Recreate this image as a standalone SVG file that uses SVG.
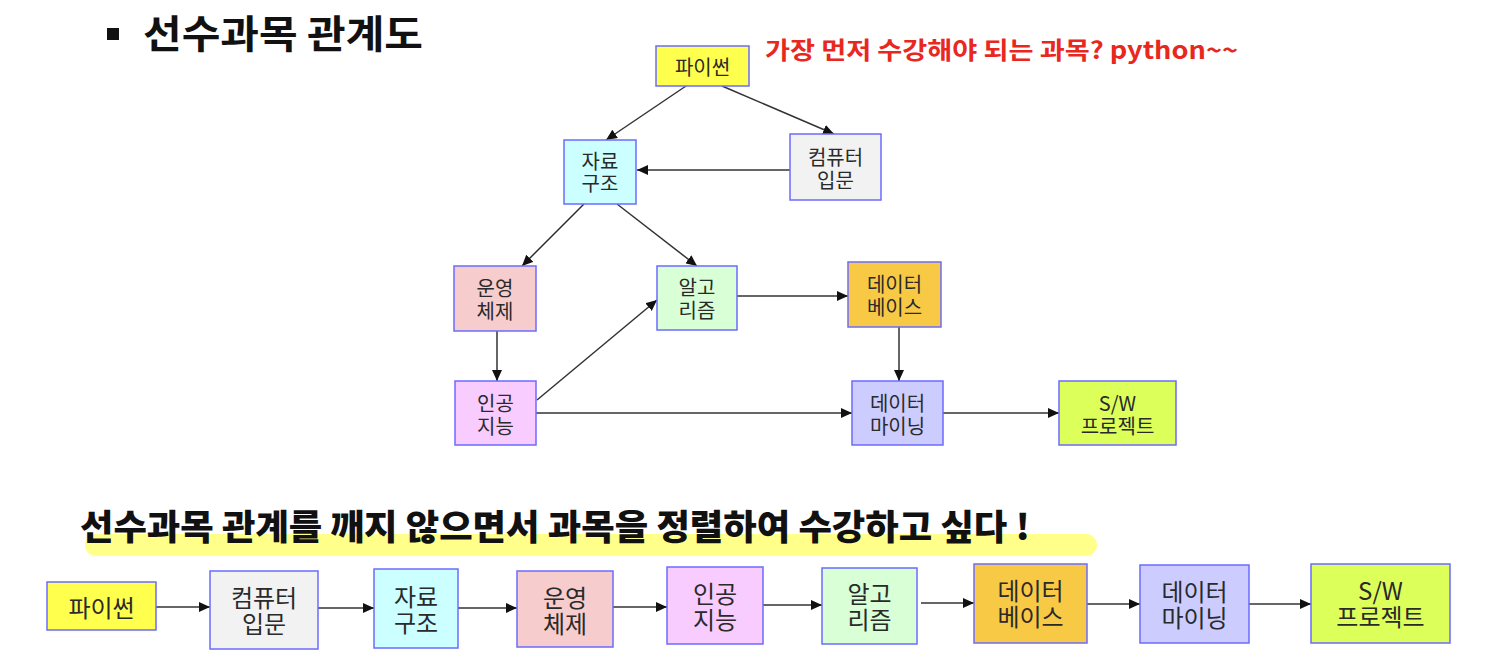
<svg xmlns="http://www.w3.org/2000/svg" width="1500" height="666" viewBox="0 0 1500 666">
<style>
.box{stroke:#6B6BFF;stroke-width:1.5}
.t{font-family:"Noto Sans CJK KR","Noto Sans",sans-serif;font-size:20px;fill:#2a2a2a;text-anchor:middle;dominant-baseline:central}
.tb{font-family:"Noto Sans CJK KR","Noto Sans",sans-serif;font-size:24px;fill:#2a2a2a;text-anchor:middle;dominant-baseline:central}
.c{stroke:#333;stroke-width:1.5;fill:none;marker-end:url(#ah)}
</style>
<defs>
<marker id="ah" markerUnits="userSpaceOnUse" markerWidth="12" markerHeight="10" refX="11" refY="5" orient="auto">
<path d="M0,0 L11,5 L0,10 z" fill="#111"/>
</marker>
</defs>
<rect width="1500" height="666" fill="#fff"/>
<g id="title">
<rect x="107" y="28" width="12" height="12" fill="#111"/>
<text x="143" y="48" font-family="'Noto Sans CJK KR',sans-serif" font-size="39" font-weight="700" fill="#111" textLength="280" lengthAdjust="spacingAndGlyphs">선수과목 관계도</text>
</g>
<g id="note">
<text x="765" y="59" font-family="'Noto Sans CJK KR',sans-serif" font-size="24" font-weight="700" fill="#E8281E" textLength="473" lengthAdjust="spacingAndGlyphs">가장 먼저 수강해야 되는 과목? python~~</text>
</g>
<g id="connectors">
<line class="c" x1="686" y1="86" x2="606" y2="140"/>
<line class="c" x1="722" y1="86" x2="834" y2="134"/>
<line class="c" x1="790" y1="170" x2="637" y2="170"/>
<line class="c" x1="584" y1="204" x2="522" y2="266"/>
<line class="c" x1="617" y1="204" x2="697" y2="266"/>
<line class="c" x1="497" y1="331" x2="497" y2="381"/>
<line class="c" x1="537" y1="400" x2="657" y2="300"/>
<line class="c" x1="737" y1="296" x2="848" y2="296"/>
<line class="c" x1="899" y1="327" x2="899" y2="381"/>
<line class="c" x1="536" y1="413" x2="852" y2="413"/>
<line class="c" x1="943" y1="413" x2="1059" y2="413"/>
<line class="c" x1="156" y1="607" x2="210" y2="607"/>
<line class="c" x1="318" y1="608" x2="374" y2="608"/>
<line class="c" x1="458" y1="608" x2="517" y2="608"/>
<line class="c" x1="613" y1="607" x2="667" y2="607"/>
<line class="c" x1="763" y1="605" x2="822" y2="605"/>
<line class="c" x1="921" y1="603" x2="974" y2="603"/>
<line class="c" x1="1087" y1="604" x2="1140" y2="604"/>
<line class="c" x1="1249" y1="604" x2="1311" y2="604"/>
</g>
<g id="n-python"><rect class="box" x="656" y="46" width="93" height="40" fill="#FFFF4D"/><text class="t" x="702.5" y="66">파이썬</text></g>
<g id="n-ds"><rect class="box" x="564" y="140" width="72" height="64" fill="#CCFFFF"/><text class="t"><tspan x="600" y="160">자료</tspan><tspan x="600" y="182">구조</tspan></text></g>
<g id="n-intro"><rect class="box" x="790" y="134" width="91" height="66" fill="#F2F2F2"/><text class="t"><tspan x="835.5" y="156">컴퓨터</tspan><tspan x="835.5" y="179">입문</tspan></text></g>
<g id="n-os"><rect class="box" x="454" y="266" width="82" height="65" fill="#F7CCCC"/><text class="t"><tspan x="495" y="287">운영</tspan><tspan x="495" y="310">체제</tspan></text></g>
<g id="n-algo"><rect class="box" x="657" y="266" width="80" height="64" fill="#D9FFD6"/><text class="t"><tspan x="697" y="286">알고</tspan><tspan x="697" y="309">리즘</tspan></text></g>
<g id="n-db"><rect class="box" x="848" y="262" width="93" height="65" fill="#F8C945"/><text class="t"><tspan x="894.5" y="283">데이터</tspan><tspan x="894.5" y="306">베이스</tspan></text></g>
<g id="n-ai"><rect class="box" x="455" y="381" width="81" height="64" fill="#F8CCFF"/><text class="t"><tspan x="495.5" y="402">인공</tspan><tspan x="495.5" y="425">지능</tspan></text></g>
<g id="n-dm"><rect class="box" x="852" y="381" width="91" height="64" fill="#CCCCFF"/><text class="t"><tspan x="897.5" y="402">데이터</tspan><tspan x="897.5" y="425">마이닝</tspan></text></g>
<g id="n-sw"><rect class="box" x="1059" y="381" width="117" height="64" fill="#DDFF5A"/><text class="t"><tspan x="1117.5" y="402">S/W</tspan><tspan x="1117.5" y="425">프로젝트</tspan></text></g>
<g id="heading">
<rect x="85" y="534" width="1012" height="22" rx="11" fill="#FFFF8A"/>
<text x="80" y="540" font-family="'Noto Sans CJK KR',sans-serif" font-size="35" font-weight="900" fill="#111" textLength="950" lengthAdjust="spacingAndGlyphs">선수과목 관계를 깨지 않으면서 과목을 정렬하여 수강하고 싶다 !</text>
</g>
<g id="b-python"><rect class="box" x="47" y="582" width="109" height="48" fill="#FFFF4D"/><text class="tb" x="101.5" y="606">파이썬</text></g>
<g id="b-intro"><rect class="box" x="210" y="571" width="108" height="78" fill="#F2F2F2"/><text class="tb"><tspan x="264" y="596">컴퓨터</tspan><tspan x="264" y="622">입문</tspan></text></g>
<g id="b-ds"><rect class="box" x="374" y="569" width="84" height="79" fill="#CCFFFF"/><text class="tb"><tspan x="416" y="595">자료</tspan><tspan x="416" y="621">구조</tspan></text></g>
<g id="b-os"><rect class="box" x="517" y="571" width="96" height="76" fill="#F7CCCC"/><text class="tb"><tspan x="565" y="596">운영</tspan><tspan x="565" y="622">체제</tspan></text></g>
<g id="b-ai"><rect class="box" x="667" y="567" width="96" height="77" fill="#F8CCFF"/><text class="tb"><tspan x="715" y="592">인공</tspan><tspan x="715" y="618">지능</tspan></text></g>
<g id="b-algo"><rect class="box" x="822" y="568" width="95" height="76" fill="#D9FFD6"/><text class="tb"><tspan x="869.5" y="592">알고</tspan><tspan x="869.5" y="618">리즘</tspan></text></g>
<g id="b-db"><rect class="box" x="974" y="564" width="113" height="79" fill="#F8C945"/><text class="tb"><tspan x="1030.5" y="589">데이터</tspan><tspan x="1030.5" y="615">베이스</tspan></text></g>
<g id="b-dm"><rect class="box" x="1140" y="565" width="109" height="78" fill="#CCCCFF"/><text class="tb"><tspan x="1194.5" y="590">데이터</tspan><tspan x="1194.5" y="616">마이닝</tspan></text></g>
<g id="b-sw"><rect class="box" x="1311" y="564" width="139" height="79" fill="#DDFF5A"/><text class="tb"><tspan x="1380.5" y="589">S/W</tspan><tspan x="1380.5" y="615">프로젝트</tspan></text></g>
</svg>
